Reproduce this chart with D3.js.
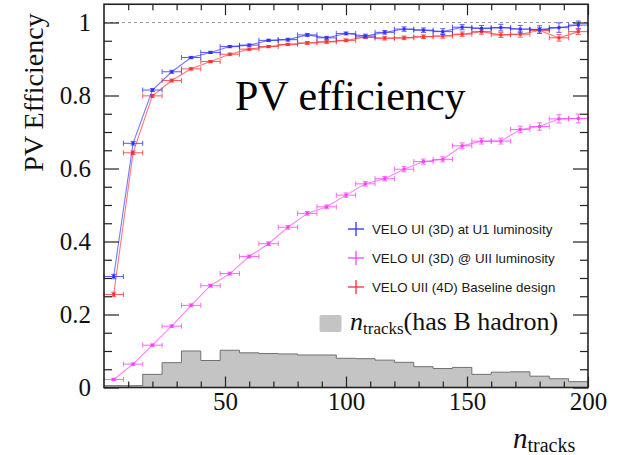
<!DOCTYPE html>
<html>
<head>
<meta charset="utf-8">
<script src="https://cdn.jsdelivr.net/npm/d3@7"></script>
<style>
    body { margin: 0; background: #fff; }
    svg { display: block; }
</style>
</head>
<body>
<svg id="chart" width="641" height="455"></svg>
<script>
// bin centres (n tracks), bins are 8 wide
var binCenters = [4, 12, 20, 28, 36, 44, 52, 60, 68, 76, 84, 92, 100, 108, 116, 124, 132, 140, 148, 156, 164, 172, 180, 188, 196];

var veloU1 = [0.304, 0.669, 0.815, 0.865, 0.904, 0.918, 0.934, 0.938, 0.951, 0.953, 0.966, 0.958, 0.970, 0.963, 0.973, 0.982, 0.979, 0.975, 0.987, 0.984, 0.986, 0.982, 0.981, 0.986, 0.993];
var veloU1Err = [0.006, 0.005, 0.004, 0.004, 0.003, 0.003, 0.003, 0.003, 0.003, 0.004, 0.004, 0.004, 0.004, 0.005, 0.005, 0.006, 0.006, 0.008, 0.007, 0.008, 0.009, 0.010, 0.010, 0.013, 0.011];

var veloUII3D = [0.022, 0.064, 0.116, 0.168, 0.225, 0.279, 0.312, 0.359, 0.394, 0.439, 0.477, 0.495, 0.527, 0.558, 0.572, 0.598, 0.619, 0.625, 0.662, 0.675, 0.675, 0.707, 0.715, 0.736, 0.737];
var veloUII3DErr = [0.003, 0.003, 0.003, 0.003, 0.004, 0.004, 0.004, 0.004, 0.005, 0.005, 0.005, 0.005, 0.006, 0.006, 0.006, 0.007, 0.007, 0.007, 0.008, 0.008, 0.008, 0.009, 0.010, 0.011, 0.012];

var veloUII4D = [0.255, 0.643, 0.799, 0.841, 0.873, 0.893, 0.913, 0.927, 0.934, 0.940, 0.944, 0.947, 0.951, 0.960, 0.957, 0.958, 0.961, 0.963, 0.968, 0.975, 0.966, 0.968, 0.978, 0.958, 0.975];
var veloUII4DErr = [0.006, 0.005, 0.004, 0.004, 0.003, 0.003, 0.003, 0.003, 0.003, 0.003, 0.004, 0.004, 0.004, 0.004, 0.005, 0.005, 0.005, 0.006, 0.006, 0.007, 0.007, 0.008, 0.008, 0.009, 0.008];

// n_tracks distribution for events with a B hadron (arbitrary scale)
var histB = [0.005, 0.005, 0.036, 0.068, 0.100, 0.074, 0.102, 0.095, 0.093, 0.092, 0.089, 0.089, 0.080, 0.079, 0.075, 0.069, 0.057, 0.052, 0.055, 0.036, 0.042, 0.043, 0.031, 0.024, 0.016];

var seriesNames = ["VELO UI (3D) at U1 luminosity", "VELO UI (3D) @ UII luminosity", "VELO UII (4D) Baseline design"];
var xTicks = [50, 100, 150, 200];
var yTicks = [0, 0.2, 0.4, 0.6, 0.8, 1];

var halfBin = 4;
var serif = "'Liberation Serif', 'Times New Roman', serif";

var svg = d3.select("#chart");
svg.append("rect").attr("width", 641).attr("height", 455).attr("fill", "#fff");

var x = d3.scaleLinear().domain([0, 200]).range([104, 588]);
var y = d3.scaleLinear().domain([0, 1.05]).range([387.5, 4.25]);

// histogram
var histPts = [];
binCenters.forEach(function (c, i) {
    histPts.push([c - halfBin, histB[i]]);
    histPts.push([c + halfBin, histB[i]]);
});
var area = d3.area()
    .x(function (d) { return x(d[0]); })
    .y0(y(0))
    .y1(function (d) { return y(d[1]); });
var line = d3.line()
    .x(function (d) { return x(d[0]); })
    .y(function (d) { return y(d[1]); });
svg.append("path").datum(histPts).attr("d", area).attr("fill", "#c4c4c4");
svg.append("path").datum(histPts).attr("d", line)
    .attr("fill", "none").attr("stroke", "#707070").attr("stroke-width", 1);

// reference line at 1
svg.append("line")
    .attr("x1", x(0)).attr("x2", x(200))
    .attr("y1", y(1)).attr("y2", y(1))
    .attr("stroke", "#999").attr("stroke-width", 1).attr("stroke-dasharray", "3,3");

// series
var series = [
    { name: seriesNames[0], vals: veloU1, errs: veloU1Err, color: "#3030ff" },
    { name: seriesNames[1], vals: veloUII3D, errs: veloUII3DErr, color: "#ff40ff" },
    { name: seriesNames[2], vals: veloUII4D, errs: veloUII4DErr, color: "#ff3030" }
];
var drawOrder = [series[1], series[2], series[0]];

drawOrder.forEach(function (s) {
    var g = svg.append("g");
    var pts = binCenters.map(function (c, i) { return { c: c, v: s.vals[i], e: s.errs[i] }; });
    g.append("path").datum(pts)
        .attr("d", d3.line().x(function (d) { return x(d.c); }).y(function (d) { return y(d.v); }))
        .attr("fill", "none").attr("stroke", s.color).attr("stroke-width", 1.1).attr("opacity", 0.65);
    var eb = g.selectAll("g.eb").data(pts).enter().append("g").attr("class", "eb")
        .attr("stroke", s.color).attr("stroke-width", 1).attr("opacity", 0.8);
    // horizontal bar (bin width)
    eb.append("line")
        .attr("x1", function (d) { return x(d.c - halfBin); })
        .attr("x2", function (d) { return x(d.c + halfBin); })
        .attr("y1", function (d) { return y(d.v); })
        .attr("y2", function (d) { return y(d.v); });
    [-halfBin, halfBin].forEach(function (o) {
        eb.append("line")
            .attr("x1", function (d) { return x(d.c + o); })
            .attr("x2", function (d) { return x(d.c + o); })
            .attr("y1", function (d) { return y(d.v) - 2.5; })
            .attr("y2", function (d) { return y(d.v) + 2.5; });
    });
    // vertical error
    eb.append("line")
        .attr("x1", function (d) { return x(d.c); })
        .attr("x2", function (d) { return x(d.c); })
        .attr("y1", function (d) { return y(d.v - d.e); })
        .attr("y2", function (d) { return y(d.v + d.e); });
    eb.each(function (d) {
        var e = d3.select(this);
        [d.v - d.e, d.v + d.e].forEach(function (v) {
            e.append("line")
                .attr("x1", x(d.c) - 2.5).attr("x2", x(d.c) + 2.5)
                .attr("y1", y(v)).attr("y2", y(v));
        });
    });
    g.selectAll("rect.mk").data(pts).enter().append("rect").attr("class", "mk")
        .attr("x", function (d) { return x(d.c) - 1.5; })
        .attr("y", function (d) { return y(d.v) - 1.5; })
        .attr("width", 3).attr("height", 3)
        .attr("fill", s.color);
});

// axes, ticks pointing inward
var minorX = d3.range(10, 200, 10).filter(function (v) { return xTicks.indexOf(v) < 0; });
var minorY = d3.range(0.05, 1.05, 0.05).filter(function (v) {
    return yTicks.every(function (t) { return Math.abs(t - v) > 1e-6; });
});

function styleAxis(g) {
    g.select(".domain").remove();
    g.selectAll("line").attr("stroke", "#222").attr("stroke-width", 1.2);
    g.selectAll("text").attr("font-family", serif).attr("font-size", 25).attr("fill", "#111");
}

svg.append("g").attr("transform", "translate(0," + y(0) + ")")
    .call(d3.axisBottom(x).tickValues(xTicks).tickSize(-11).tickPadding(5).tickFormat(d3.format("d")))
    .call(styleAxis);
svg.append("g").attr("transform", "translate(0," + y(0) + ")")
    .call(d3.axisBottom(x).tickValues(minorX).tickSize(-6).tickFormat(""))
    .call(styleAxis);
svg.append("g").attr("transform", "translate(0," + y(1.05) + ")")
    .call(d3.axisTop(x).tickValues(xTicks).tickSize(-11).tickFormat(""))
    .call(styleAxis);
svg.append("g").attr("transform", "translate(0," + y(1.05) + ")")
    .call(d3.axisTop(x).tickValues(minorX).tickSize(-6).tickFormat(""))
    .call(styleAxis);

svg.append("g").attr("transform", "translate(" + x(0) + ",0)")
    .call(d3.axisLeft(y).tickValues(yTicks).tickSize(-15).tickPadding(13).tickFormat(function (d) { return String(d); }))
    .call(styleAxis);
svg.append("g").attr("transform", "translate(" + x(0) + ",0)")
    .call(d3.axisLeft(y).tickValues(minorY).tickSize(-8).tickFormat(""))
    .call(styleAxis);
svg.append("g").attr("transform", "translate(" + x(200) + ",0)")
    .call(d3.axisRight(y).tickValues(yTicks).tickSize(-15).tickFormat(""))
    .call(styleAxis);
svg.append("g").attr("transform", "translate(" + x(200) + ",0)")
    .call(d3.axisRight(y).tickValues(minorY).tickSize(-8).tickFormat(""))
    .call(styleAxis);

// frame
svg.append("rect")
    .attr("x", x(0)).attr("y", y(1.05))
    .attr("width", x(200) - x(0)).attr("height", y(0) - y(1.05))
    .attr("fill", "none").attr("stroke", "#222").attr("stroke-width", 1.6);

// axis titles
svg.append("text")
    .attr("transform", "translate(43,92.5) rotate(-90)")
    .attr("text-anchor", "middle")
    .attr("font-family", serif).attr("font-size", 28).attr("fill", "#111")
    .text("PV Efficiency");

var xt = svg.append("text").attr("x", 513).attr("y", 448)
    .attr("font-family", serif).attr("fill", "#111");
xt.append("tspan").attr("font-style", "italic").attr("font-size", 29).text("n");
xt.append("tspan").attr("font-size", 20).attr("dy", 4).text("tracks");

// title inside plot
svg.append("text").attr("x", 235).attr("y", 110)
    .attr("font-family", serif).attr("font-size", 42).attr("fill", "#000")
    .text("PV efficiency");

// legend
var leg = svg.append("g");
series.forEach(function (s, i) {
    var cy = 229 + i * 29;
    leg.append("line").attr("x1", 348).attr("x2", 364).attr("y1", cy).attr("y2", cy)
        .attr("stroke", s.color).attr("stroke-width", 1.3);
    leg.append("line").attr("x1", 356).attr("x2", 356).attr("y1", cy - 7).attr("y2", cy + 7)
        .attr("stroke", s.color).attr("stroke-width", 1.3);
    leg.append("text").attr("x", 372).attr("y", cy + 4.5)
        .attr("font-family", "'Liberation Sans', Arial, sans-serif").attr("font-size", 13.3)
        .attr("fill", "#1a1a1a").text(s.name);
});
leg.append("rect").attr("x", 319.5).attr("y", 315).attr("width", 22).attr("height", 17)
    .attr("rx", 2).attr("fill", "#c4c4c4");
var lt = leg.append("text").attr("x", 350).attr("y", 330)
    .attr("font-family", serif).attr("fill", "#111");
lt.append("tspan").attr("font-style", "italic").attr("font-size", 26).text("n");
lt.append("tspan").attr("font-size", 17).attr("dy", 4).text("tracks");
lt.append("tspan").attr("font-size", 26).attr("dy", -4).text("(has B hadron)");
</script>
</body>
</html>
